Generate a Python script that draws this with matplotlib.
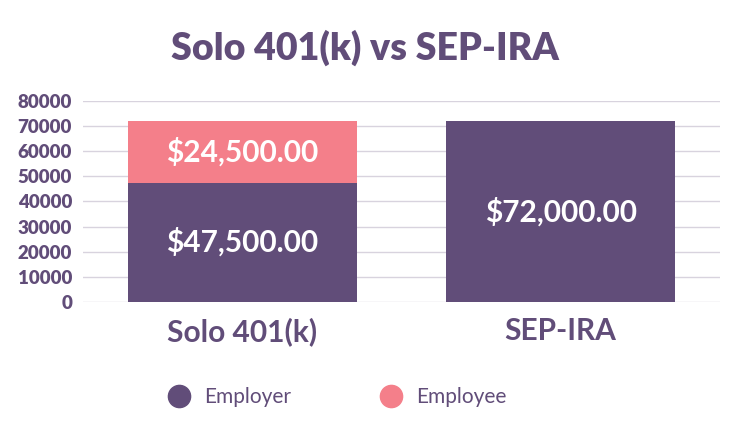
import matplotlib.pyplot as plt
from matplotlib.lines import Line2D

plans = ['Solo 401(k)', 'SEP-IRA']
employer = [47500, 72000]
employee = [24500, 0]
yticks = [0, 10000, 20000, 30000, 40000, 50000, 60000, 70000, 80000]

purple = '#614d79'
pink = '#f47f8a'
grid_col = '#d8d3de'

plt.rcParams['font.family'] = ['Lato', 'DejaVu Sans']

fig = plt.figure(figsize=(7.3, 4.4), dpi=100)
ax = fig.add_axes([0.114, 0.3136, 0.872, 0.457])

x = range(len(plans))
ax.bar(x, employer, width=0.72, color=purple, zorder=2)
ax.bar(x, employee, width=0.72, bottom=employer, color=pink, zorder=2)

# value labels inside the bars
for i in x:
    ax.text(i, employer[i] / 2, f'${employer[i]:,.2f}', ha='center', va='center',
            color='white', fontsize=21.5, fontweight='bold', zorder=3)
    if employee[i]:
        ax.text(i, employer[i] + employee[i] / 2, f'${employee[i]:,.2f}', ha='center',
                va='center', color='white', fontsize=21.5, fontweight='bold', zorder=3)

ax.set_xlim(-0.5, 1.5)
ax.set_ylim(0, 80000)
ax.set_yticks(yticks)
ax.set_yticklabels([str(v) for v in yticks], fontsize=13.5, fontweight='heavy', color=purple)
ax.set_xticks(list(x))
ax.set_xticklabels(plans, fontsize=21.5, fontweight='bold', color=purple)
ax.tick_params(axis='both', length=0)
ax.tick_params(axis='y', pad=8)
ax.tick_params(axis='x', pad=11)
ax.grid(axis='y', color=grid_col, linewidth=1, zorder=0)
for s in ax.spines.values():
    s.set_visible(False)

fig.text(0.5, 0.891, 'Solo 401(k) vs SEP-IRA', ha='center', va='center',
         fontsize=27, fontweight='heavy', color=purple)

handles = [Line2D([], [], marker='o', linestyle='', markersize=16, color=purple),
           Line2D([], [], marker='o', linestyle='', markersize=16, color=pink)]
leg = fig.legend(handles, ['Employer', 'Employee'], loc='center', bbox_to_anchor=(0.462, 0.097),
                 ncol=2, frameon=False, fontsize=15, columnspacing=4.3,
                 handlelength=1, handletextpad=0.7)
for t in leg.get_texts():
    t.set_color(purple)

fig.savefig('out.png', dpi=100)
